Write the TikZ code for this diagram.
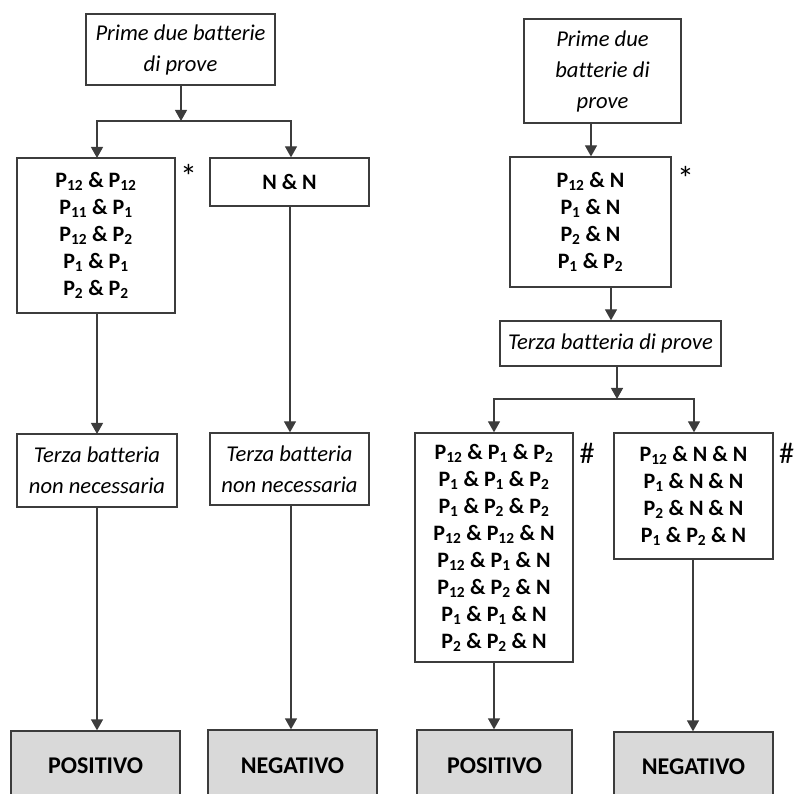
\documentclass[tikz,border=0pt]{standalone}
\usepackage{fontspec}
\setmainfont{Carlito}[Ligatures={NoCommon}]
\usetikzlibrary{arrows.meta}
\definecolor{edge}{HTML}{3C3C3C}
\definecolor{resfill}{HTML}{D9D9D9}
\tikzset{
  box/.style={draw=edge, line width=1.3pt, fill=white, inner sep=0pt, align=center, text=black},
  itbox/.style={box, font=\fontsize{22.6}{31}\selectfont\itshape},
  bdbox/.style={box, font=\fontsize{22}{27}\selectfont\bfseries},
  resbox/.style={box, fill=resfill, font=\fontsize{24}{29}\selectfont\bfseries},
  starsym/.style={inner sep=0pt, font=\fontsize{34}{34}\selectfont},
  hashsym/.style={inner sep=0pt, font=\fontsize{30}{30}\selectfont},
  arr/.style={draw=edge, line width=1.3pt, -{Triangle[width=12pt,length=11pt]}},
  ln/.style={draw=edge, line width=1.3pt}
}
\newcommand{\Pn}[1]{P\textsubscript{#1}}
\begin{document}
\begin{tikzpicture}[x=1pt,y=-1pt]
\useasboundingbox (0,0) rectangle (796,794);
\clip (0,0) rectangle (796,794);

% ---------- left flow ----------
\node[itbox, minimum width=189pt, minimum height=71pt] (Ltop) at (180.5,49.5) {Prime due batterie\\di prove};
\node[bdbox, minimum width=158pt, minimum height=155pt] (LP) at (96,235.5)
  {\Pn{12} \& \Pn{12}\\\Pn{11} \& \Pn{1}\\\Pn{12} \& \Pn{2}\\\Pn{1} \& \Pn{1}\\\Pn{2} \& \Pn{2}};
\node[bdbox, minimum width=159pt, minimum height=48pt] (LNN) at (289.5,182) {N \& N};
\node[itbox, minimum width=160pt, minimum height=73pt] (LT1) at (97,470.5) {Terza batteria\\non necessaria};
\node[itbox, minimum width=159pt, minimum height=72pt] (LT2) at (289.5,469) {Terza batteria\\non necessaria};
\node[resbox, minimum width=169pt, minimum height=70pt] (LPOS) at (95.5,766) {POSITIVO};
\node[resbox, minimum width=169pt, minimum height=72pt] (LNEG) at (292.5,766) {NEGATIVO};
\node[starsym] (st1) at (188.5,176) {*};

\coordinate (jL) at (181,121);
\draw[arr] (Ltop.south -| jL) -- (jL);
\draw[arr] (jL) -| (97,121) -- (97,158);
\draw[arr] (jL) -| (LNN.north -| 291,0);
\draw[arr] (97,313) -- (97,434);
\draw[arr] (LNN.south -| 290,0) -- (LT2.north -| 290,0);
\draw[arr] (LT1.south -| 97,0) -- (LPOS.north -| 97,0);
\draw[arr] (LT2.south -| 291,0) -- (LNEG.north -| 291,0);

% ---------- right flow ----------
\node[itbox, minimum width=157pt, minimum height=104pt] (Rtop) at (602.5,71) {Prime due\\batterie di\\prove};
\node[bdbox, minimum width=161pt, minimum height=130pt] (RP) at (590.5,222)
  {\Pn{12} \& N\\\Pn{1} \& N\\\Pn{2} \& N\\\Pn{1} \& \Pn{2}};
\node[itbox, minimum width=221pt, minimum height=45pt] (RT3) at (610.5,343.5) {Terza batteria di prove};
\node[bdbox, minimum width=158pt, minimum height=229pt] (RA) at (494,547.5)
  {\Pn{12} \& \Pn{1} \& \Pn{2}\\\Pn{1} \& \Pn{1} \& \Pn{2}\\\Pn{1} \& \Pn{2} \& \Pn{2}\\\Pn{12} \& \Pn{12} \& N\\\Pn{12} \& \Pn{1} \& N\\\Pn{12} \& \Pn{2} \& N\\\Pn{1} \& \Pn{1} \& N\\\Pn{2} \& \Pn{2} \& N};
\node[bdbox, minimum width=159pt, minimum height=126pt] (RB) at (693.5,496)
  {\Pn{12} \& N \& N\\\Pn{1} \& N \& N\\\Pn{2} \& N \& N\\\Pn{1} \& \Pn{2} \& N};
\node[resbox, minimum width=155pt, minimum height=72pt] (RPOS) at (494.5,766) {POSITIVO};
\node[resbox, minimum width=159pt, minimum height=70pt] (RNEG) at (693.5,767) {NEGATIVO};
\node[starsym] (st2) at (685.5,178) {*};
\node[hashsym] (h1) at (587,453.5) {\#};
\node[hashsym] (h2) at (786.5,453) {\#};

\coordinate (jR) at (617,399);
\draw[arr] (Rtop.south -| 591,0) -- (RP.north -| 591,0);
\draw[arr] (RP.south -| 611,0) -- (RT3.north -| 611,0);
\draw[arr] (RT3.south -| jR) -- (jR);
\draw[arr] (jR) -| (RA.north -| 494,0);
\draw[arr] (jR) -| (RB.north -| 694,0);
\draw[arr] (RA.south -| 494,0) -- (RPOS.north -| 494,0);
\draw[arr] (RB.south -| 693,0) -- (RNEG.north -| 693,0);
\end{tikzpicture}
\end{document}
